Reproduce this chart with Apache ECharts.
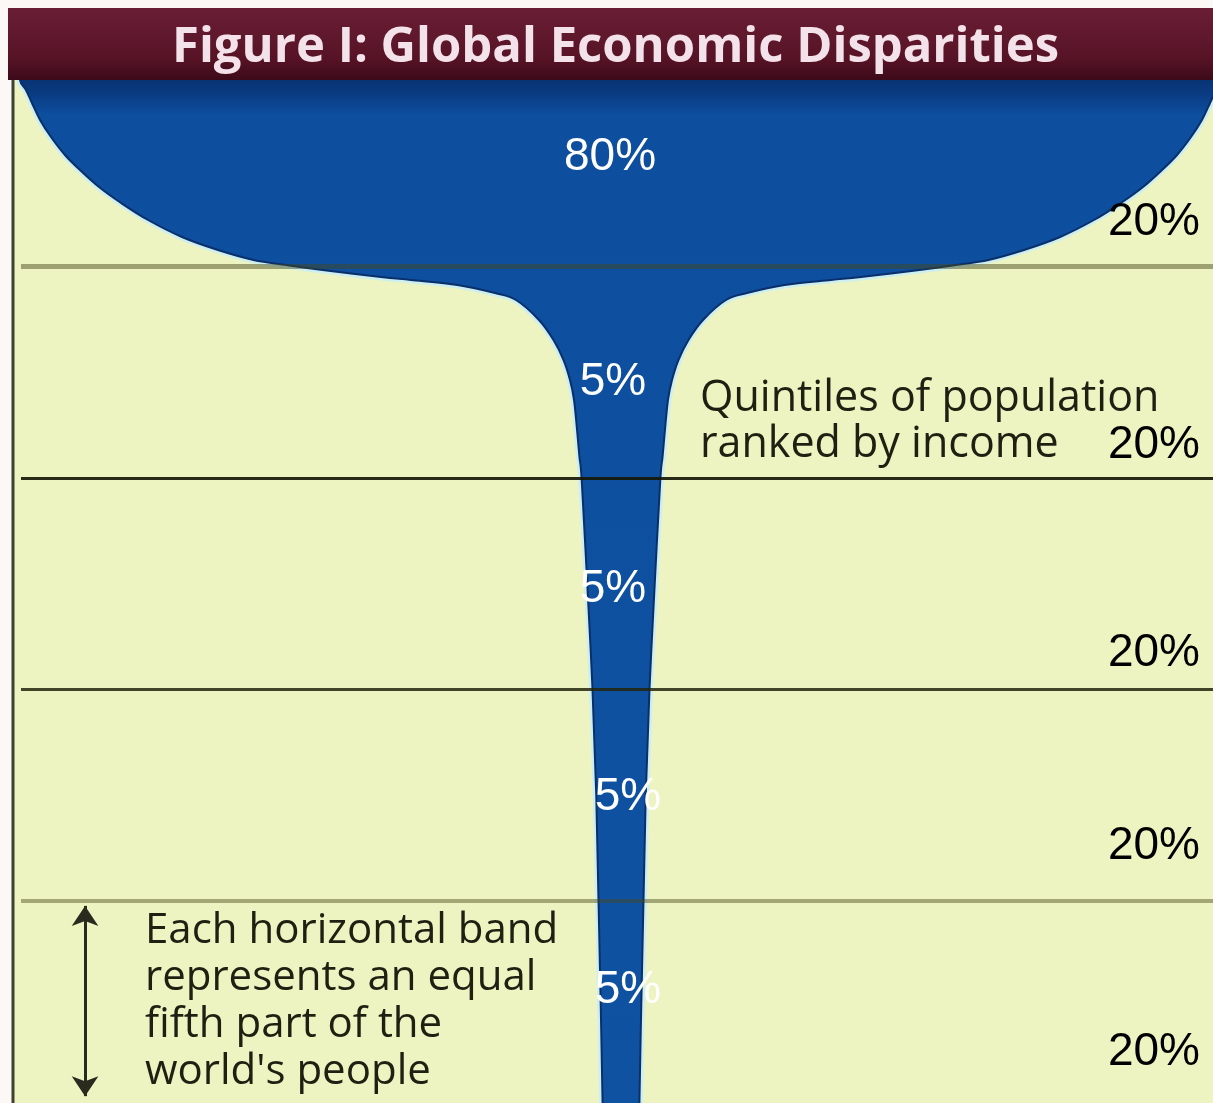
<!DOCTYPE html>
<html>
<head>
<meta charset="utf-8">
<script src="https://cdn.jsdelivr.net/npm/echarts@6/dist/echarts.min.js"></script>
<style>
  html, body { margin: 0; padding: 0; background: #fbf8f6; }
  #chart { width: 1213px; height: 1103px; }
</style>
</head>
<body>
<div id="chart"></div>
<script>
// ---- data ----
const quintiles = ['Richest 20%', 'Second 20%', 'Third 20%', 'Fourth 20%', 'Poorest 20%'];
const populationShare = [20, 20, 20, 20, 20];     // % of world population per band
const incomeShare = [80, 5, 5, 5, 5];             // % of world income per band
// outline of the "champagne glass": depth in population % vs half-width in income %
const glassDepth =     [0,    2.37,  3.31,  4.54,  6.15,  7.76, 9.46,  10.88, 12.49, 14.0,  15.61, 17.22, 18.45, 19.39, 19.87, 20.34, 21.0, 21.29, 21.76, 22.52, 23.18, 25.07, 26.96, 28.86, 30.75, 32.64, 35.48, 38.03, 40.2, 50,   60,  70,   80,  90,   99,   103.6];
const glassHalfWidth = [40.1, 40.07, 39.67, 39.27, 38.73, 38.0, 37.07, 36.07, 34.8,  33.33, 31.53, 29.27, 26.87, 24.5,  22.3,  19.9,  16.0, 14.0,  10.9,  8.4,   7.0,   5.47,  4.5,   3.83,  3.4,   3.13,  2.93,  2.77,  2.62, 2.25, 1.9, 1.65, 1.5, 1.35, 1.23, 1.2];

// ---- derived ----
const bandStart = [];
let acc = 0;
populationShare.forEach(p => { bandStart.push(acc); acc += p; });
const bandEnd = bandStart.map((s, i) => s + populationShare[i]);

const incomeLabelData = incomeShare.map((v, i) => [0, bandStart[i] + populationShare[i] / 2, v]);
const popLabelData = populationShare.map((v, i) => [38.6, bandEnd[i] - 4, v]);

const incomeOffsets = [[-11, -3], [-8, 10], [-8, 6], [7, 2], [7, -16]];
const popOffsets = [[0, -2], [0, 10], [0, 6], [0, -12], [0, -17]];

const lineStyles = [
  { color: 'rgba(70,72,25,0.48)', width: 5 },
  { color: 'rgba(22,24,6,0.92)', width: 3 },
  { color: 'rgba(35,37,12,0.85)', width: 3 },
  { color: 'rgba(70,72,25,0.45)', width: 4 }
];
const bandLines = bandEnd.slice(0, -1).map((y, i) => ({
  yAxis: y,
  lineStyle: { color: lineStyles[i].color, width: lineStyles[i].width, type: 'solid' }
}));

// smooth curve (Catmull-Rom -> cubic Bezier) through pixel points
function curveThrough(pts) {
  let d = '';
  for (let i = 0; i < pts.length - 1; i++) {
    const p0 = pts[Math.max(i - 1, 0)], p1 = pts[i], p2 = pts[i + 1], p3 = pts[Math.min(i + 2, pts.length - 1)];
    const c1 = [p1[0] + (p2[0] - p0[0]) / 6, p1[1] + (p2[1] - p0[1]) / 6];
    const c2 = [p2[0] - (p3[0] - p1[0]) / 6, p2[1] - (p3[1] - p1[1]) / 6];
    d += ' C' + c1[0].toFixed(2) + ' ' + c1[1].toFixed(2) + ' ' + c2[0].toFixed(2) + ' ' + c2[1].toFixed(2) + ' ' + p2[0].toFixed(2) + ' ' + p2[1].toFixed(2);
  }
  return d;
}

const chart = echarts.init(document.getElementById('chart'), null, { renderer: 'canvas' });

const option = {
  backgroundColor: '#fbf8f6',
  animation: false,
  title: {
    text: 'Figure I: Global Economic Disparities',
    left: 167,
    top: 19,
    z: 100,
    textStyle: { color: '#f3e2e9', fontFamily: 'Open Sans', fontWeight: 'bold', fontSize: 49 }
  },
  grid: { left: 21, top: 55, width: 1200, height: 1057, outerBoundsMode: 'none', containLabel: false },
  xAxis: { type: 'value', min: -40, max: 40, show: false },
  yAxis: { type: 'value', min: 0, max: 100, inverse: true, show: false },
  graphic: [
    { type: 'rect', z: 0, shape: { x: 12, y: 8, width: 1201, height: 1095 }, style: { fill: '#eef4c1' } },
    { type: 'line', z: 1, shape: { x1: 13, y1: 80, x2: 13, y2: 1103 }, style: { stroke: '#3e4032', lineWidth: 3 } },
    {
      type: 'rect', z: 50, shape: { x: 8, y: 8, width: 1205, height: 72 },
      style: {
        fill: new echarts.graphic.LinearGradient(0, 0, 0, 1, [
          { offset: 0, color: '#6a1e35' },
          { offset: 0.7, color: '#571326' },
          { offset: 1, color: '#3c0a1a' }
        ])
      }
    },
    {
      type: 'text', z: 40, left: 700, top: 376,
      style: {
        text: 'Quintiles of population\nranked by income',
        font: '43px "Open Sans"', fill: '#1f2012', lineHeight: 46
      }
    },
    {
      type: 'text', z: 40, left: 145, top: 908,
      style: {
        text: "Each horizontal band\nrepresents an equal\nfifth part of the\nworld's people",
        font: '42px "Open Sans"', fill: '#1f2012', lineHeight: 47
      }
    }
  ],
  series: [
    {
      type: 'custom',
      z: 2,
      silent: true,
      data: [[0, 0]],
      renderItem: function (params, api) {
        const left = glassDepth.map((p, i) => api.coord([-glassHalfWidth[i], p]));
        const right = glassDepth.map((p, i) => api.coord([glassHalfWidth[i], p])).reverse();
        const d = 'M' + left[0][0] + ' ' + left[0][1] + curveThrough(left) +
          ' L' + right[0][0] + ' ' + right[0][1] + curveThrough(right) + ' Z';
        return {
          type: 'group',
          children: [
            { type: 'path', shape: { pathData: d }, style: { fill: 'none', stroke: '#cdeff0', lineWidth: 7 } },
            {
              type: 'path', shape: { pathData: d },
              style: {
                fill: new echarts.graphic.LinearGradient(0, 0, 0, 1, [
                  { offset: 0, color: '#05275c' },
                  { offset: 0.035, color: '#0a3a80' },
                  { offset: 0.055, color: '#0d4e9e' },
                  { offset: 1, color: '#1052a2' }
                ]),
                stroke: '#0a2f6a', lineWidth: 2
              }
            }
          ]
        };
      }
    },
    {
      type: 'scatter',
      z: 5,
      silent: true,
      symbolSize: 0,
      data: [[0, 0]],
      markLine: {
        silent: true,
        symbol: 'none',
        label: { show: false },
        data: bandLines.concat([
          [
            { coord: [-35.73, bandStart[4] + 0.5], symbol: 'arrow', symbolSize: 20, lineStyle: { color: '#2a2b1e', width: 3, type: 'solid' } },
            { coord: [-35.73, bandEnd[4] - 1.5], symbol: 'arrow', symbolSize: 20 }
          ]
        ])
      }
    },
    {
      type: 'scatter',
      z: 10,
      silent: true,
      symbolSize: 0,
      itemStyle: { opacity: 1 },
      data: incomeLabelData.map((d, i) => ({
        value: d,
        label: { offset: incomeOffsets[i] }
      })),
      label: {
        show: true,
        position: 'inside',
        formatter: p => p.value[2] + '%',
        color: '#ffffff',
        opacity: 1,
        fontFamily: 'Liberation Sans',
        fontSize: 46
      }
    },
    {
      type: 'scatter',
      z: 10,
      silent: true,
      symbolSize: 0,
      itemStyle: { opacity: 1 },
      data: popLabelData.map((d, i) => ({
        value: d,
        label: { offset: popOffsets[i] }
      })),
      label: {
        show: true,
        position: [0, 0],
        align: 'right',
        verticalAlign: 'middle',
        formatter: p => p.value[2] + '%',
        color: '#000000',
        opacity: 1,
        fontFamily: 'Liberation Sans',
        fontSize: 46
      }
    }
  ]
};
chart.setOption(option);
</script>
</body>
</html>
